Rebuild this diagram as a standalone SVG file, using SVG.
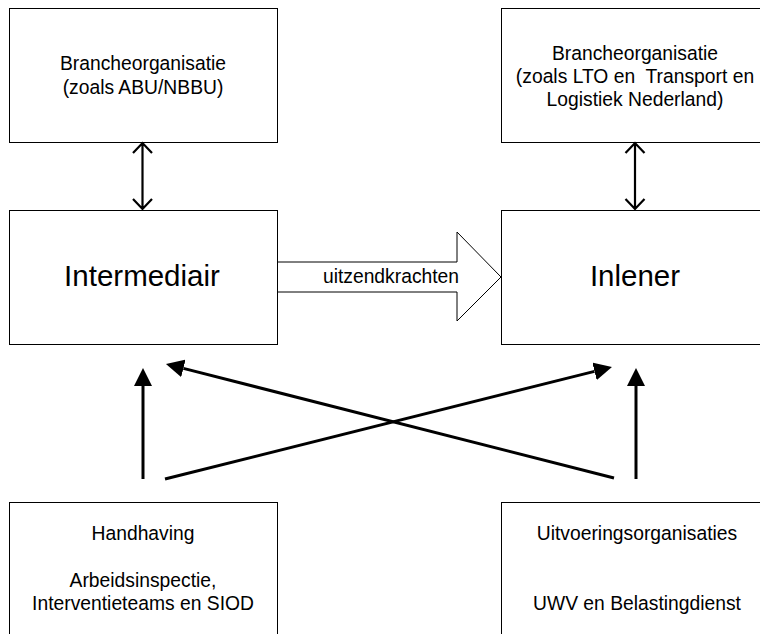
<svg xmlns="http://www.w3.org/2000/svg" width="760" height="634" viewBox="0 0 760 634">
<style>
.box{fill:#fff;stroke:#000;stroke-width:1}
.t{font-family:"Liberation Sans",Arial,sans-serif;font-size:19.3px;fill:#000;text-anchor:middle}
.big{font-family:"Liberation Sans",Arial,sans-serif;font-size:29.5px;fill:#000;text-anchor:middle}
.dbl{fill:none;stroke:#000;stroke-width:2.2}
.arr{fill:none;stroke:#000;stroke-width:3}
</style>
<defs>
<marker id="head" viewBox="0 0 18 18" markerWidth="18" markerHeight="18" refX="0" refY="9" orient="auto" markerUnits="userSpaceOnUse">
<path d="M0,0 L18,9 L0,18 z" fill="#000"/>
</marker>
</defs>
<rect width="760" height="634" fill="#fff"/>
<g id="branche-links">
<rect class="box" x="9.5" y="8.5" width="268" height="134"/>
<text class="t" x="143" y="70">Brancheorganisatie</text>
<text class="t" x="143" y="94">(zoals ABU/NBBU)</text>
</g>
<g id="branche-rechts">
<rect class="box" x="501.5" y="8.5" width="268" height="134"/>
<text class="t" x="635" y="60">Brancheorganisatie</text>
<text class="t" x="635" y="83" xml:space="preserve">(zoals LTO en  Transport en</text>
<text class="t" x="635" y="106">Logistiek Nederland)</text>
</g>
<g id="intermediair">
<rect class="box" x="9.5" y="210.5" width="268" height="134"/>
<text class="big" x="142" y="286">Intermediair</text>
</g>
<g id="inlener">
<rect class="box" x="501.5" y="210.5" width="268" height="134"/>
<text class="big" x="635" y="286">Inlener</text>
</g>
<g id="handhaving">
<rect class="box" x="9.5" y="502.5" width="268" height="140"/>
<text class="t" x="143" y="540">Handhaving</text>
<text class="t" x="143" y="587">Arbeidsinspectie,</text>
<text class="t" x="143" y="610">Interventieteams en SIOD</text>
</g>
<g id="uitvoering">
<rect class="box" x="501.5" y="502.5" width="268" height="140"/>
<text class="t" x="637" y="540">Uitvoeringsorganisaties</text>
<text class="t" x="637" y="610">UWV en Belastingdienst</text>
</g>
<g id="connectors">
<path class="dbl" d="M142.5,143 V209 M133,153 L142.5,143 L152,153 M133,199 L142.5,209 L152,199"/>
<path class="dbl" d="M635,143 V209 M625.5,153 L635,143 L644.5,153 M625.5,199 L635,209 L644.5,199"/>
<polygon points="277.5,262 457,262 457,232 501,277 457,321 457,292 277.5,292" fill="#fff" stroke="#000" stroke-width="1"/>
<text class="t" x="391" y="283">uitzendkrachten</text>
<line class="arr" x1="143" y1="479" x2="143" y2="386" marker-end="url(#head)"/>
<line class="arr" x1="636" y1="479" x2="636" y2="386" marker-end="url(#head)"/>
<line class="arr" x1="165" y1="479" x2="594.5" y2="371.4" marker-end="url(#head)"/>
<line class="arr" x1="614" y1="478" x2="183.4" y2="368.4" marker-end="url(#head)"/>
</g>
</svg>
